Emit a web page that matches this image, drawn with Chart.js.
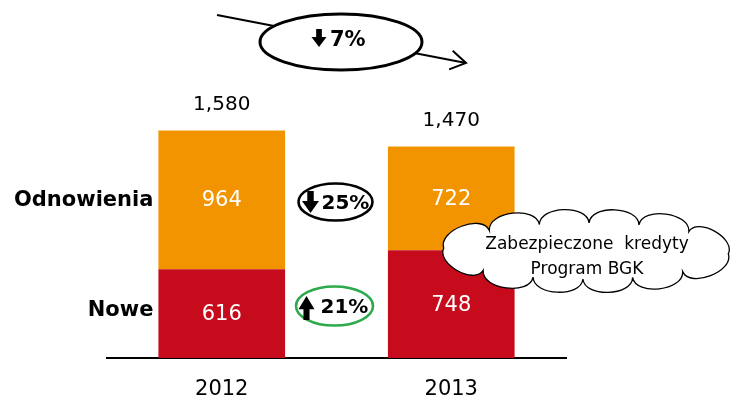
<!DOCTYPE html>
<html>
<head>
<meta charset="utf-8">
<script src="https://cdn.jsdelivr.net/npm/chart.js@4.4.1/dist/chart.umd.min.js"></script>
<style>
  html, body { margin: 0; padding: 0; background: #ffffff; }
  #wrap { width: 731px; height: 403px; position: relative; }
</style>
</head>
<body>
<div id="wrap"><canvas id="c" width="731" height="403"></canvas></div>
<script>
const categories = ['2012', '2013'];
const seriesNames = ['Nowe', 'Odnowienia'];
const nowe = [616, 748];
const odnowienia = [964, 722];
const changeTotal = '7%';
const changeOdnowienia = '25%';
const changeNowe = '21%';
const cloudLines = ['Zabezpieczone  kredyty', 'Program BGK'];

const ORANGE = '#F29400';
const RED = '#C60C1C';
const GREEN = '#2DAA4B';
const FONT = "'DejaVu Sans', sans-serif";

function fmt(n) { return n.toLocaleString('en-US'); }

function ellipse(ctx, cx, cy, rx, ry, stroke, lw) {
  ctx.save();
  ctx.beginPath();
  ctx.ellipse(cx, cy, rx, ry, 0, 0, Math.PI * 2);
  ctx.fillStyle = '#fff';
  ctx.fill();
  ctx.lineWidth = lw;
  ctx.strokeStyle = stroke;
  ctx.stroke();
  ctx.restore();
}

function thickArrow(ctx, cx, top, w, h, down) {
  const shaft = w * 0.38;
  const head = h * 0.55;
  ctx.save();
  ctx.fillStyle = '#000';
  ctx.beginPath();
  if (down) {
    ctx.moveTo(cx - shaft / 2, top);
    ctx.lineTo(cx + shaft / 2, top);
    ctx.lineTo(cx + shaft / 2, top + h - head);
    ctx.lineTo(cx + w / 2, top + h - head);
    ctx.lineTo(cx, top + h);
    ctx.lineTo(cx - w / 2, top + h - head);
    ctx.lineTo(cx - shaft / 2, top + h - head);
  } else {
    ctx.moveTo(cx, top);
    ctx.lineTo(cx + w / 2, top + head);
    ctx.lineTo(cx + shaft / 2, top + head);
    ctx.lineTo(cx + shaft / 2, top + h);
    ctx.lineTo(cx - shaft / 2, top + h);
    ctx.lineTo(cx - shaft / 2, top + head);
    ctx.lineTo(cx - w / 2, top + head);
  }
  ctx.closePath();
  ctx.fill();
  ctx.restore();
}

function cloud(ctx, cx, cy, rx, ry) {
  const S = 1440, samp = [];
  let total = 0;
  for (let i = 0; i <= S; i++) {
    const a = Math.PI * 2 * i / S + 0.1;
    const p = [cx + rx * Math.cos(a), cy + ry * Math.sin(a)];
    if (i > 0) total += Math.hypot(p[0] - samp[i - 1][0], p[1] - samp[i - 1][1]);
    p.push(total);
    samp.push(p);
  }
  const n = 12;
  const pts = [];
  let j = 0;
  for (let k = 0; k < n; k++) {
    const target = total * k / n;
    while (samp[j][2] < target) j++;
    pts.push([samp[j][0], samp[j][1]]);
  }
  ctx.save();
  ctx.beginPath();
  ctx.moveTo(pts[0][0], pts[0][1]);
  for (let i = 0; i < n; i++) {
    const p = pts[i], q = pts[(i + 1) % n];
    const dx = q[0] - p[0], dy = q[1] - p[1];
    const L = Math.hypot(dx, dy);
    let nx = dy / L, ny = -dx / L;
    const mxp = (p[0] + q[0]) / 2 - cx, myp = (p[1] + q[1]) / 2 - cy;
    if (nx * mxp + ny * myp < 0) { nx = -nx; ny = -ny; }
    const b = L * 0.38;
    ctx.bezierCurveTo(
      p[0] + dx * 0.02 + nx * b, p[1] + dy * 0.02 + ny * b,
      p[0] + dx * 0.98 + nx * b, p[1] + dy * 0.98 + ny * b,
      q[0], q[1]);
  }
  ctx.closePath();
  ctx.fillStyle = '#fff';
  ctx.fill();
  ctx.lineWidth = 1.3;
  ctx.strokeStyle = '#000';
  ctx.stroke();
  ctx.restore();
}

const overlay = {
  id: 'overlay',
  afterDatasetsDraw(chart) {
    const ctx = chart.ctx;
    const m0 = chart.getDatasetMeta(0).data;
    const m1 = chart.getDatasetMeta(1).data;
    ctx.save();
    ctx.textAlign = 'center';
    ctx.textBaseline = 'middle';
    ctx.fillStyle = '#fff';
    ctx.font = '21px ' + FONT;
    m0.forEach((b, i) => ctx.fillText(String(nowe[i]), b.x, (b.y + b.base) / 2 + 1));
    m1.forEach((b, i) => ctx.fillText(String(odnowienia[i]), b.x, (b.y + b.base) / 2 + 1));
    ctx.fillStyle = '#000';
    ctx.font = '20px ' + FONT;
    m1.forEach((b, i) => ctx.fillText(fmt(nowe[i] + odnowienia[i]), b.x, b.y - 26));
    ctx.textAlign = 'right';
    ctx.font = 'bold 21px ' + FONT;
    const b0 = m0[0], b1 = m1[0];
    const leftX = b0.x - b0.width / 2 - 5;
    ctx.fillText(seriesNames[1], leftX, (b1.y + b1.base) / 2 + 1);
    ctx.fillText(seriesNames[0], leftX, (b0.y + b0.base) / 2 - 3);
    ctx.restore();

    // top trend arrow
    ctx.save();
    ctx.strokeStyle = '#000';
    ctx.lineWidth = 2;
    const x1 = 217, y1 = 15, x2 = 466, y2 = 63;
    ctx.beginPath();
    ctx.moveTo(x1, y1); ctx.lineTo(x2, y2); ctx.stroke();
    const ang = Math.atan2(y2 - y1, x2 - x1);
    ctx.beginPath();
    ctx.moveTo(x2 - 18 * Math.cos(ang - 0.55), y2 - 18 * Math.sin(ang - 0.55));
    ctx.lineTo(x2, y2);
    ctx.lineTo(x2 - 18 * Math.cos(ang + 0.55), y2 - 18 * Math.sin(ang + 0.55));
    ctx.stroke();
    ctx.restore();
    ellipse(ctx, 341, 42, 81, 28, '#000', 3);
    thickArrow(ctx, 319, 29, 15, 18, true);
    ctx.save();
    ctx.fillStyle = '#000';
    ctx.font = 'bold 21px ' + FONT;
    ctx.textAlign = 'left';
    ctx.textBaseline = 'middle';
    ctx.fillText(changeTotal, 330, 41);
    ctx.restore();

    // middle ellipses
    const mx = (m0[0].x + m0[0].width / 2 + m0[1].x - m0[1].width / 2) / 2;
    ellipse(ctx, mx - 1, 202, 37, 18.5, '#000', 2.6);
    thickArrow(ctx, mx - 26, 191, 17, 22, true);
    ellipse(ctx, mx - 2, 306, 38.5, 19.5, GREEN, 2.6);
    thickArrow(ctx, mx - 30, 296, 16, 24, false);
    ctx.save();
    ctx.fillStyle = '#000';
    ctx.font = 'bold 20px ' + FONT;
    ctx.textAlign = 'left';
    ctx.textBaseline = 'middle';
    ctx.fillText(changeOdnowienia, mx - 15, 204);
    ctx.fillText(changeNowe, mx - 16, 308);
    ctx.restore();

    // cloud
    cloud(ctx, 586, 251, 143, 28);
    ctx.save();
    ctx.fillStyle = '#000';
    ctx.font = '17px ' + FONT;
    ctx.textAlign = 'center';
    ctx.textBaseline = 'middle';
    ctx.fillText(cloudLines[0], 587, 245);
    ctx.fillText(cloudLines[1], 587, 270);
    ctx.restore();
  }
};

new Chart(document.getElementById('c'), {
  type: 'bar',
  data: {
    labels: categories,
    datasets: [
      { label: seriesNames[0], data: nowe, backgroundColor: RED, borderWidth: 0,
        categoryPercentage: 1, barPercentage: 0.552 },
      { label: seriesNames[1], data: odnowienia, backgroundColor: ORANGE, borderWidth: 0,
        categoryPercentage: 1, barPercentage: 0.552 }
    ]
  },
  options: {
    responsive: false,
    animation: false,
    layout: { padding: { left: 107, right: 165, top: 12.6, bottom: 0 } },
    plugins: { legend: { display: false }, tooltip: { enabled: false } },
    scales: {
      x: {
        stacked: true,
        grid: { display: false, drawTicks: false },
        border: { display: true, color: '#000', width: 2 },
        ticks: { color: '#000', font: { family: FONT, size: 21 }, padding: 19 },
        afterFit(scale) { scale.height = 45; }
      },
      y: {
        stacked: true,
        display: false,
        min: 0,
        max: 2400
      }
    }
  },
  plugins: [overlay]
});
</script>
</body>
</html>
